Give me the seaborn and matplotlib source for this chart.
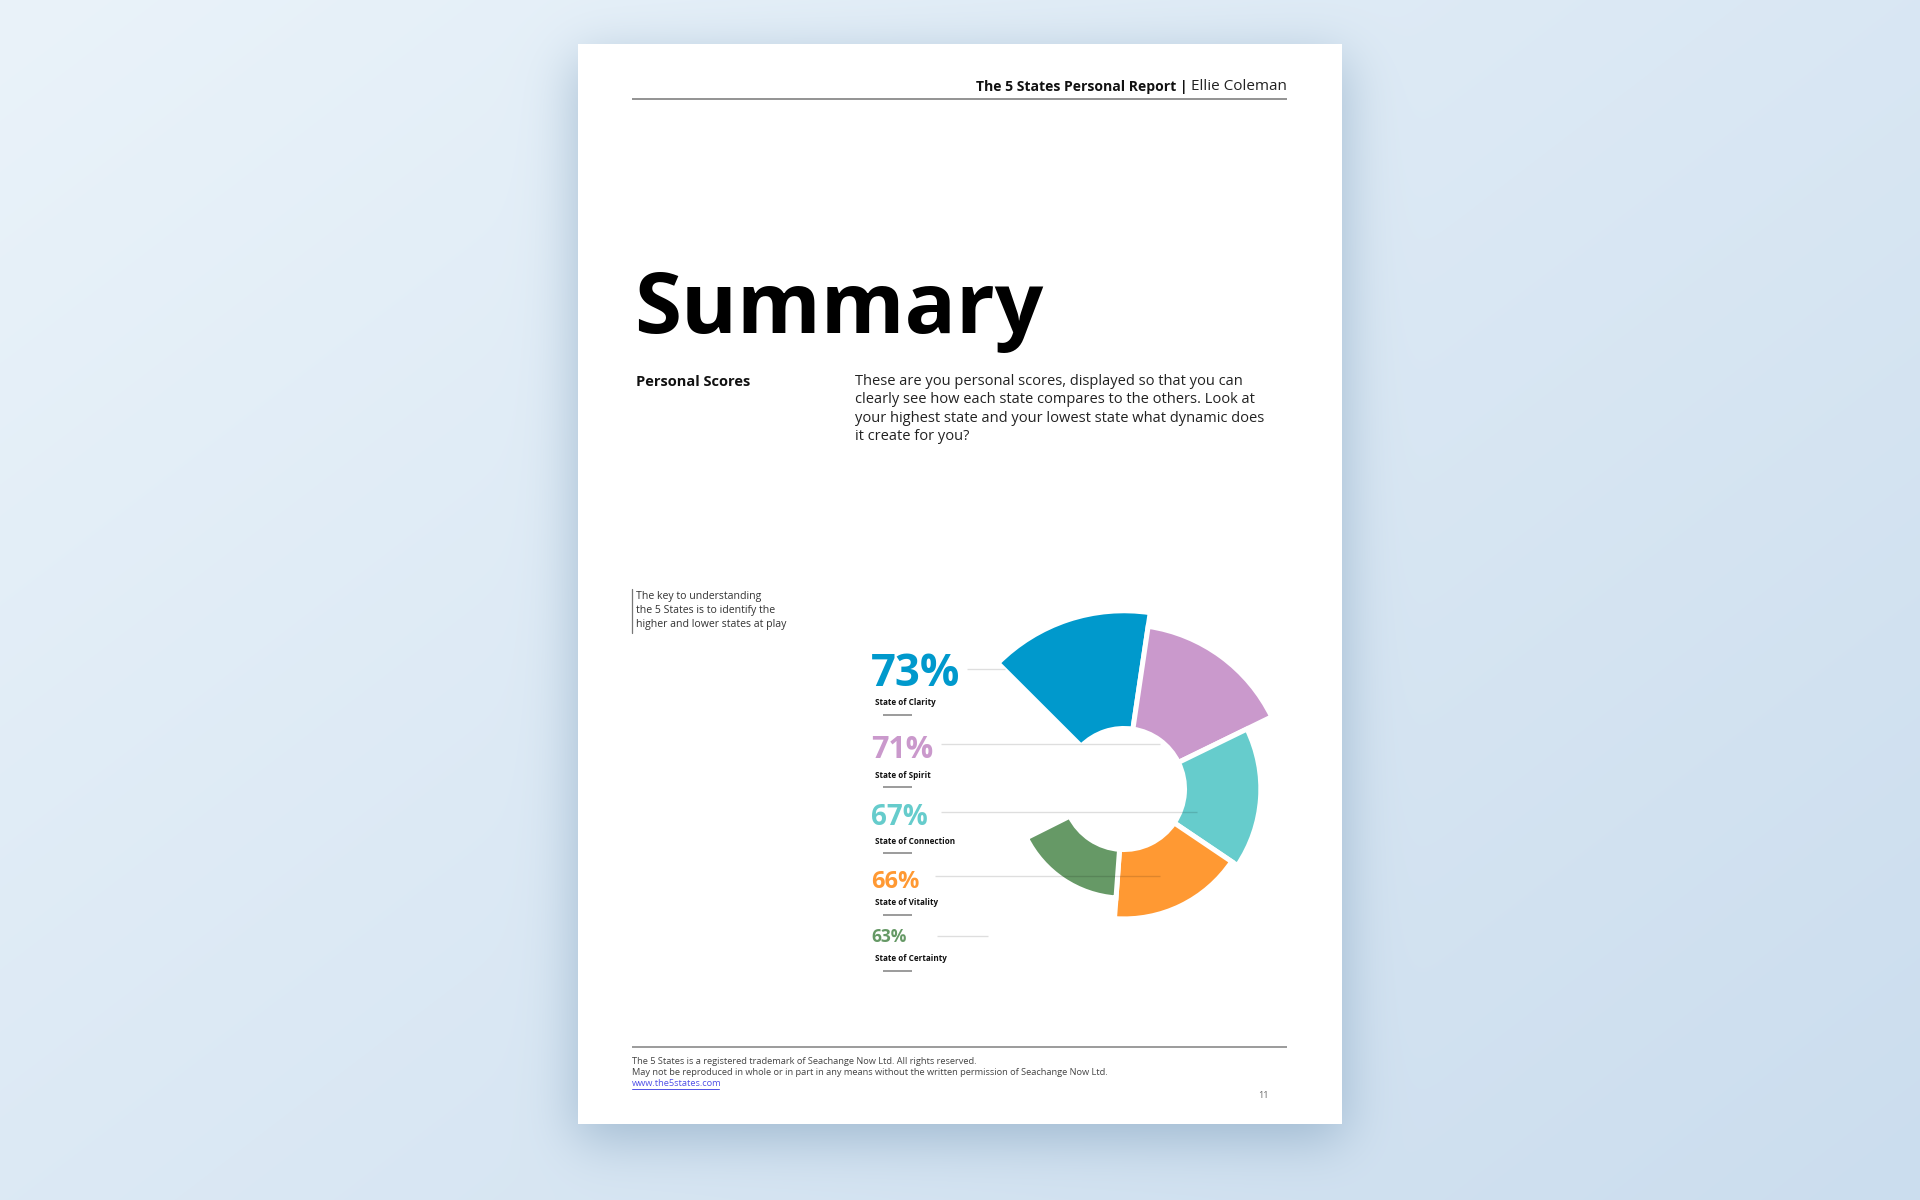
import math
import numpy as np
import matplotlib
matplotlib.use("Agg")
import matplotlib.pyplot as plt
import seaborn as sns

# ---------------- data ----------------
states = ["State of Clarity", "State of Spirit", "State of Connection",
          "State of Vitality", "State of Certainty"]
scores = [73, 71, 67, 66, 63]
state_colors = ["#0099CC", "#CA99CC", "#66CCCC", "#FF9933", "#669966"]

header_bold = "The 5 States Personal Report |"
header_name = "Ellie Coleman"
title = "Summary"
section = "Personal Scores"
paragraph = ["These are you personal scores, displayed so that you can",
             "clearly see how each state compares to the others. Look at",
             "your highest state and your lowest state what dynamic does",
             "it create for you?"]
quote = ["The key to understanding",
         "the 5 States is to identify the",
         "higher and lower states at play"]
footer = ["The 5 States is a registered trademark of Seachange Now Ltd. All rights reserved.",
          "May not be reproduced in whole or in part in any means without the written permission of Seachange Now Ltd."]
footer_link = "www.the5states.com"
page_no = "11"

# ---------------- layout / style ----------------
W, H = 1920, 1200
PAGE = (578, 1342, 44, 1124)
seg_center_deg = [108.3, 53.8, -4.0, -64.1, -123.8]
seg_width_deg = [53.5, 55.5, 60.0, 60.2, 59.2]
pct_y = [674, 749.5, 817.5, 881.5, 937.5]
pct_size = [31.5, 22, 20, 17, 12.5]
name_y = [702.5, 775.5, 841.5, 902.5, 958.5]
div_y = [715, 787, 853, 915, 971]
conn_y = [669, 744, 812, 876, 936]
conn_x0 = [967, 941, 941, 935, 937]
conn_x1 = [1005, 1160, 1197, 1160, 988]

sns.set_theme(style="white")
FONT = "Open Sans"
plt.rcParams["font.family"] = [FONT, "DejaVu Sans"]

fig = plt.figure(figsize=(W / 100, H / 100), dpi=100)

# ---------------- background with page + shadow ----------------
xs = np.arange(W) + 0.5
ys = np.arange(H) + 0.5
t = 0.55 * (xs[None, :] / W) + 0.45 * (ys[:, None] / H)
c0 = np.array([234, 243, 250]) / 255.0
c1 = np.array([203, 221, 238]) / 255.0
img = c0 + (c1 - c0) * t[..., None]

erf = np.vectorize(math.erf)
x0, x1, y0, y1 = PAGE
s = 26.0
fx = 0.5 * (erf((xs - (x0 - 2)) / (s * 1.414)) - erf((xs - (x1 + 2)) / (s * 1.414)))
fy = 0.5 * (erf((ys - (y0 + 14)) / (s * 1.414)) - erf((ys - (y1 + 16)) / (s * 1.414)))
a = 0.55 * fy[:, None] * fx[None, :]
shadow_c = np.array([118, 152, 182]) / 255.0
img = img * (1 - a[..., None]) + shadow_c * a[..., None]
img[y0:y1, x0:x1] = 1.0

ax = fig.add_axes([0, 0, 1, 1], zorder=1)
ax.imshow(img, extent=(0, W, H, 0), interpolation="bilinear", aspect="auto")
ax.set_xlim(0, W)
ax.set_ylim(H, 0)
ax.axis("off")

# ---------------- header ----------------
LX, RX = 632, 1287
t_name = ax.text(RX, 86.5, header_name, ha="right", va="center", fontsize=11,
                 color="#222222")
renderer = fig.canvas.get_renderer()
bb = t_name.get_window_extent(renderer)
ax.text(bb.x0 - 4, 86.5, header_bold, ha="right", va="center", fontsize=10.1,
        fontweight="bold", color="#111111")
ax.plot([LX, RX], [98.5, 98.5], color="#8a8a8a", lw=1.3, solid_capstyle="butt")

# ---------------- title + text ----------------
ax.text(634, 333, title, ha="left", va="baseline", fontsize=61.5,
        fontweight="bold", color="#000000")
ax.text(636, 381.5, section, ha="left", va="center", fontsize=10.5,
        fontweight="bold", color="#111111")
for i, line in enumerate(paragraph):
    ax.text(855, 381.5 + i * 18.4, line, ha="left", va="center", fontsize=10.5,
            color="#222222")

ax.plot([632, 632], [589, 633], color="#777777", lw=0.9)
for i, line in enumerate(quote):
    ax.text(636, 597 + i * 13.5, line, ha="left", va="center", fontsize=7.6,
            color="#333333")

# ---------------- labels ----------------
for i in range(len(scores)):
    ax.text(871, pct_y[i], f"{scores[i]}%", ha="left", va="center",
            fontsize=pct_size[i], fontweight="bold", color=state_colors[i])
    ax.text(875, name_y[i], states[i], ha="left", va="center", fontsize=5.9,
            fontweight="bold", color="#111111")
    ax.plot([883, 912], [div_y[i], div_y[i]], color="#8a8a8a", lw=1.2,
            solid_capstyle="butt")

# ---------------- footer ----------------
ax.plot([LX, RX], [1047, 1047], color="#8a8a8a", lw=1.2, solid_capstyle="butt")
for i, line in enumerate(footer):
    ax.text(632, 1061.5 + i * 11, line, ha="left", va="center", fontsize=6.7,
            color="#444444")
t_link = ax.text(632, 1083.5, footer_link, ha="left", va="center", fontsize=6.7,
                 color="#5050e6")
lb = t_link.get_window_extent(renderer)
ax.plot([lb.x0, lb.x1 - 3], [1088.5, 1088.5], color="#5050e6", lw=0.7)
ax.text(1263, 1096, page_no, ha="center", va="center", fontsize=6.5,
        color="#666666")

# ---------------- polar chart ----------------
CX, CY, R = 1124, 789, 200
R_LO = 47.17
PX_PER_UNIT = 6.9
BAR_BOTTOM = 55.94
pax = fig.add_axes([(CX - R) / W, (H - CY - R) / H, 2 * R / W, 2 * R / H],
                   projection="polar", zorder=3)
pax.set_facecolor("none")
pax.set_ylim(R_LO, R_LO + R / PX_PER_UNIT)
theta = np.deg2rad(seg_center_deg)
widths = np.deg2rad(seg_width_deg)
heights = [v - BAR_BOTTOM for v in scores]
pal = sns.color_palette(state_colors)
pax.bar(theta, heights, width=widths, bottom=BAR_BOTTOM, color=pal,
        edgecolor="white", linewidth=3.6, align="center", clip_on=False)
pax.axis("off")

# ---------------- connector lines (drawn over the chart) ----------------
top = fig.add_axes([0, 0, 1, 1], zorder=4)
top.set_facecolor("none")
top.set_xlim(0, W)
top.set_ylim(H, 0)
top.axis("off")
for i in range(len(scores)):
    top.plot([conn_x0[i], conn_x1[i]], [conn_y[i], conn_y[i]], color="black",
             alpha=0.13, lw=1.0, solid_capstyle="butt")

fig.savefig("out.png", dpi=100)
